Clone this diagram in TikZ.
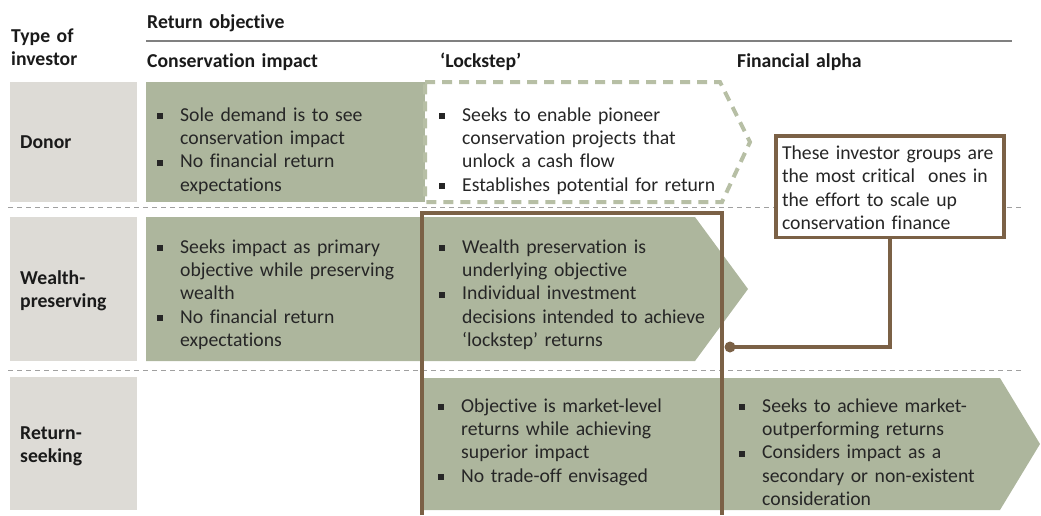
\documentclass[tikz,border=0pt]{standalone}
\usepackage{fontspec}
\setmainfont{Carlito}[Ligatures={TeX,NoCommon}]

\definecolor{sagegreen}{RGB}{173,182,157}
\definecolor{dashgreen}{RGB}{183,191,165}
\definecolor{labelgray}{RGB}{221,219,214}
\definecolor{framebrown}{RGB}{123,97,70}
\definecolor{sepgray}{RGB}{160,160,160}
\definecolor{rulegray}{RGB}{128,128,128}
\definecolor{inkgray}{RGB}{38,38,38}
\definecolor{headink}{RGB}{26,26,26}

\newcommand{\sqitem}{\par\noindent\hangindent=23pt\hangafter=1\makebox[23pt][l]{\rule[2.2pt]{6pt}{6pt}}\strut}

\begin{document}
\begin{tikzpicture}[x=1pt,y=-1pt,
  rowlabel/.style={fill=labelgray},
  sage/.style={fill=sagegreen},
  txt/.style={anchor=north west, inner sep=0pt, yshift=16.3pt, text width=#1, align=left,
    text=inkgray, font=\fontsize{19.7}{23.3}\selectfont},
  head/.style={txt=#1, text=headink, font=\fontsize{19.7}{23.3}\selectfont\bfseries},
  sepline/.style={draw=sepgray, line width=1pt, dash pattern=on 5pt off 4pt},
  frame/.style={draw=framebrown, line width=3.5pt},
]
\useasboundingbox (0,0) rectangle (1041,515);

% investor type boxes
\fill [rowlabel] (10,82) rectangle (137,202);
\fill [rowlabel] (10,217) rectangle (137,361);
\fill [rowlabel] (10,377) rectangle (137,510);

% green arrows
\fill [sage] (146,82) rectangle (425,202);
\draw [fill=white, draw=dashgreen, line width=4pt, dash pattern=on 10pt off 7pt]
  (425,82) -- (720,82) -- (750,142) -- (722,202) -- (425,202) -- cycle;
\fill [sage] (146,217) -- (695,217) -- (748,289) -- (695,361) -- (146,361) -- cycle;
\fill [sage] (423,378) -- (1000,378) -- (1040,444) -- (1000,510) -- (423,510) -- cycle;

% lines
\draw [draw=rulegray, line width=1.5pt] (146,41) -- (1012,41);
\draw [sepline] (8,207) -- (1022,207);
\draw [sepline] (8,370) -- (1022,370);
\draw [frame] (422,515) |- (722,213) -- (722,515);

% headers
\node [head=120pt] (typehd) at (11,42) {\strut Type of\newline investor};
\node [head=300pt] (rethd) at (147,28) {\strut Return objective};
\node [head=250pt] (conshd) at (147,67) {\strut Conservation impact};
\node [head=250pt] (lockhd) at (440,67) {\strut ‘Lockstep’};
\node [head=250pt] (alphahd) at (737,67) {\strut Financial alpha};

% row labels
\node [head=115pt] (donor) at (20,148) {\strut Donor};
\node [head=115pt] (wealth) at (20,284) {\strut Wealth-\newline preserving};
\node [head=115pt] (retseek) at (20,439) {\strut Return-\newline seeking};

% cell texts
\node [txt=255pt] (donorcons) at (157,114) {\sqitem Sole demand is to see\newline conservation impact
  \sqitem No financial return\newline expectations\par};
\node [txt=280pt] (donorlock) at (439,114) {\sqitem Seeks to enable pioneer\newline conservation projects that\newline unlock a cash flow
  \sqitem Establishes potential for return\par};
\node [txt=255pt] (wealthcons) at (157,246) {\sqitem Seeks impact as primary\newline objective while preserving\newline wealth
  \sqitem No financial return\newline expectations\par};
\node [txt=280pt] (wealthlock) at (439,246) {\sqitem Wealth preservation is\newline underlying objective
  \sqitem Individual investment\newline decisions intended to achieve\newline ‘lockstep’ returns\par};
\node [txt=280pt] (retlock) at (438,405) {\sqitem Objective is market-level\newline returns while achieving\newline superior impact
  \sqitem No trade-off envisaged\par};
\node [txt=270pt] (retalpha) at (739,405) {\sqitem Seeks to achieve market-\newline outperforming returns
  \sqitem Considers impact as a\newline secondary or non-existent\newline consideration\par};

% callout
\node [frame, fill=white, text width=216pt, inner xsep=6pt, inner ysep=0pt, minimum height=101.5pt,
  align=left, text=inkgray, font=\fontsize{19.7}{23.3}\selectfont] (note) at (890,186.5)
  {\strut These investor groups are\newline the most critical\ \ ones in\newline the effort to scale up\newline conservation finance};
\coordinate (tap) at (730,347);
\draw [frame] (note.south) |- (tap);
\fill [framebrown] (tap) circle (5.5);

\end{tikzpicture}
\end{document}
